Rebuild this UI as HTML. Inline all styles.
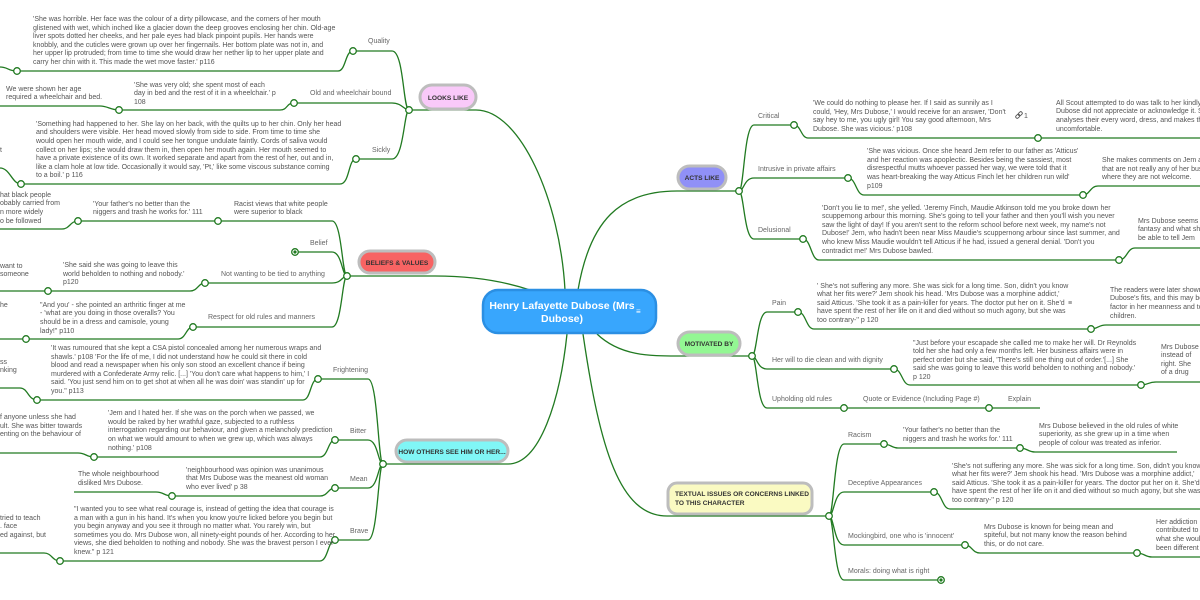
<!DOCTYPE html>
<html><head><meta charset="utf-8"><style>
html,body{margin:0;padding:0;background:#fff;width:1200px;height:600px;overflow:hidden}
svg{display:block}
text{font-family:"Liberation Sans",sans-serif;font-size:7px;fill:#555}
.l{fill:#666}
.p{font-weight:bold;fill:#333;font-size:6.6px}
path{fill:none;stroke:#217a21;stroke-width:1.3}
.c{fill:#fff;stroke:#217a21;stroke-width:1.3}
.d{fill:#217a21}
</style></head><body>
<svg width="1200" height="600" viewBox="0 0 1200 600" xmlns="http://www.w3.org/2000/svg">
<!-- top-level connectors -->
<path d="M565 290 C560 200 520 110 476 110 L409 110"/>
<path d="M530 290 C500 280 470 276 435 276 L347 276"/>
<path d="M567 334 C560 400 540 464 508 464 L383 464"/>
<path d="M578 290 C590 220 620 191 677 191 L739 191"/>
<path d="M597 334 C620 356 650 356 677 356 L752 356"/>
<path d="M583 334 C600 450 620 516 667 516 L829 516"/>

<!-- LOOKS LIKE -->
<path d="M409 110 C403 110 404 51 392 51 L353 51 M353 51 C345 51 346 71 338 71 L17 71 M17 71 C8 71 8 67 0 67"/>
<path d="M409 110 C404 110 402 103 392 103 L294 103 M294 103 C286 103 288 110 280 110 L119 110 M119 110 C110 110 108 106 100 106 L0 106"/>
<path d="M409 110 C404 110 404 159 392 159 L356 159 M356 159 C348 159 350 184 340 184 L21 184 M21 184 C12 184 10 168 0 168"/>
<circle class="c" cx="353" cy="51" r="3.3"/><circle class="c" cx="17" cy="71" r="3.3"/>
<circle class="c" cx="294" cy="103" r="3.3"/><circle class="c" cx="119" cy="110" r="3.3"/>
<circle class="c" cx="356" cy="159" r="3.3"/><circle class="c" cx="21" cy="184" r="3.3"/>
<circle class="c" cx="409" cy="110" r="3.3"/>
<text class="l" x="368" y="43">Quality</text>
<text x="33" y="21">'She was horrible. Her face was the colour of a dirty pillowcase, and the corners of her mouth</text>
<text x="33" y="30">glistened with wet, which inched like a glacier down the deep grooves enclosing her chin. Old-age</text>
<text x="33" y="38">liver spots dotted her cheeks, and her pale eyes had black pinpoint pupils. Her hands were</text>
<text x="33" y="47">knobbly, and the cuticles were grown up over her fingernails. Her bottom plate was not in, and</text>
<text x="33" y="55">her upper lip protruded; from time to time she would draw her nether lip to her upper plate and</text>
<text x="33" y="64">carry her chin with it. This made the wet move faster.' p116</text>
<text class="l" x="310" y="95">Old and wheelchair bound</text>
<text x="134" y="87">'She was very old; she spent most of each</text>
<text x="134" y="95">day in bed and the rest of it in a wheelchair.' p</text>
<text x="134" y="104">108</text>
<text x="6" y="91">We were shown her age</text>
<text x="6" y="99">required a wheelchair and bed.</text>
<text class="l" x="372" y="152">Sickly</text>
<text x="36" y="126">'Something had happened to her. She lay on her back, with the quilts up to her chin. Only her head</text>
<text x="36" y="134">and shoulders were visible. Her head moved slowly from side to side. From time to time she</text>
<text x="36" y="143">would open her mouth wide, and I could see her tongue undulate faintly. Cords of saliva would</text>
<text x="36" y="152">collect on her lips; she would draw them in, then open her mouth again. Her mouth seemed to</text>
<text x="36" y="160">have a private existence of its own. It worked separate and apart from the rest of her, out and in,</text>
<text x="36" y="169">like a clam hole at low tide. Occasionally it would say, 'Pt,' like some viscous substance coming</text>
<text x="36" y="177">to a boil.' p 116</text>
<text x="0" y="152">t</text>
<text x="0" y="197">hat black people</text>
<text x="0" y="205">obably carried from</text>
<text x="0" y="214">n more widely</text>
<text x="0" y="223">o be followed</text>

<!-- BELIEFS -->
<path d="M347 276 C342 276 342 221 332 221 L218 221 L78 221 M78 221 C70 221 70 229 62 229 L0 229"/>
<path d="M347 276 C342 276 342 252 332 252 L295 252"/>
<path d="M347 276 C342 276 342 283 332 283 L205 283 M205 283 C198 283 198 291 190 291 L0 291"/>
<path d="M347 276 C342 276 342 327 332 327 L193 327 M193 327 C186 327 186 339 178 339 L0 339"/>
<circle class="c" cx="218" cy="221" r="3.3"/><circle class="c" cx="78" cy="221" r="3.3"/>
<circle class="c" cx="295" cy="252" r="3.3"/><circle class="d" cx="295" cy="252" r="1.6"/>
<circle class="c" cx="205" cy="283" r="3.3"/><circle class="c" cx="48" cy="291" r="3.3"/>
<circle class="c" cx="193" cy="327" r="3.3"/><circle class="c" cx="26" cy="339" r="3.3"/>
<circle class="c" cx="347" cy="276" r="3.3"/>
<text x="93" y="206">'Your father's no better than the</text>
<text x="93" y="214">niggers and trash he works for.' 111</text>
<text x="234" y="206">Racist views that white people</text>
<text x="234" y="214">were superior to black</text>
<text class="l" x="310" y="245">Belief</text>
<text class="l" x="221" y="276">Not wanting to be tied to anything</text>
<text x="63" y="267">'She said she was going to leave this</text>
<text x="63" y="276">world beholden to nothing and nobody.'</text>
<text x="63" y="284">p120</text>
<text x="0" y="268">want to</text>
<text x="0" y="276">someone</text>
<text class="l" x="208" y="319">Respect for old rules and manners</text>
<text x="40" y="307">"And you' - she pointed an arthritic finger at me</text>
<text x="40" y="315">- 'what are you doing in those overalls? You</text>
<text x="40" y="324">should be in a dress and camisole, young</text>
<text x="40" y="333">lady!" p110</text>
<text x="0" y="307">he</text>

<!-- HOW OTHERS -->
<path d="M383 464 C378 464 378 379 368 379 L318 379 M318 379 C310 379 311 400 303 400 L37 400 M37 400 C28 400 28 388 20 388 L0 388"/>
<path d="M383 464 C378 464 378 440 368 440 L335 440 M335 440 C328 440 328 457 320 457 L94 457 M94 457 C86 457 86 453 78 453 L0 453"/>
<path d="M383 464 C378 464 378 488 368 488 L335 488 M335 488 C328 488 328 496 320 496 L172 496 M172 496 C164 496 164 492 156 492 L74 492"/>
<path d="M383 464 C378 464 378 540 368 540 L335 540 M335 540 C328 540 328 561 320 561 L60 561 M60 561 C52 561 52 553 44 553 L0 553"/>
<circle class="c" cx="318" cy="379" r="3.3"/><circle class="c" cx="37" cy="400" r="3.3"/>
<circle class="c" cx="335" cy="440" r="3.3"/><circle class="c" cx="94" cy="457" r="3.3"/>
<circle class="c" cx="335" cy="488" r="3.3"/><circle class="c" cx="172" cy="496" r="3.3"/>
<circle class="c" cx="335" cy="540" r="3.3"/><circle class="c" cx="60" cy="561" r="3.3"/>
<circle class="c" cx="383" cy="464" r="3.3"/>
<text class="l" x="333" y="372">Frightening</text>
<text x="51" y="350">'It was rumoured that she kept a CSA pistol concealed among her numerous wraps and</text>
<text x="51" y="359">shawls.' p108 'For the life of me, I did not understand how he could sit there in cold</text>
<text x="51" y="367">blood and read a newspaper when his only son stood an excellent chance if being</text>
<text x="51" y="376">murdered with a Confederate Army relic. [...] 'You don't care what happens to him,' I</text>
<text x="51" y="384">said. 'You just send him on to get shot at when all he was doin' was standin' up for</text>
<text x="51" y="393">you." p113</text>
<text x="0" y="364">ss</text>
<text x="0" y="372">nking</text>
<text class="l" x="350" y="433">Bitter</text>
<text x="108" y="415">'Jem and I hated her. If she was on the porch when we passed, we</text>
<text x="108" y="424">would be raked by her wrathful gaze, subjected to a ruthless</text>
<text x="108" y="432">interrogation regarding our behaviour, and given a melancholy prediction</text>
<text x="108" y="441">on what we would amount to when we grew up, which was always</text>
<text x="108" y="450">nothing.' p108</text>
<text x="0" y="419">f anyone unless she had</text>
<text x="0" y="428">ult. She was bitter towards</text>
<text x="0" y="436">enting on the behaviour of</text>
<text class="l" x="350" y="481">Mean</text>
<text x="186" y="472">'neighbourhood was opinion was unanimous</text>
<text x="186" y="480">that Mrs Dubose was the meanest old woman</text>
<text x="186" y="489">who ever lived' p 38</text>
<text x="78" y="476">The whole neighbourhood</text>
<text x="78" y="485">disliked Mrs Dubose.</text>
<text class="l" x="350" y="533">Brave</text>
<text x="74" y="511">"I wanted you to see what real courage is, instead of getting the idea that courage is</text>
<text x="74" y="520">a man with a gun in his hand. It's when you know you're licked before you begin but</text>
<text x="74" y="528">you begin anyway and you see it through no matter what. You rarely win, but</text>
<text x="74" y="537">sometimes you do. Mrs Dubose won, all ninety-eight pounds of her. According to her</text>
<text x="74" y="545">views, she died beholden to nothing and nobody. She was the bravest person I ever</text>
<text x="74" y="554">knew." p 121</text>
<text x="0" y="520">tried to teach</text>
<text x="0" y="528">. face</text>
<text x="0" y="537">ed against, but</text>

<!-- ACTS LIKE -->
<path d="M739 191 C744 191 744 125 754 125 L794 125 M794 125 C801 125 801 138 808 138 L1200 138"/>
<path d="M739 191 C744 191 744 178 754 178 L848 178 M848 178 C856 178 856 195 864 195 L1083 195 M1083 195 C1090 195 1090 186 1098 186 L1200 186"/>
<path d="M739 191 C744 191 744 239 754 239 L803 239 M803 239 C811 239 811 260 819 260 L1119 260 M1119 260 C1127 260 1127 248 1135 248 L1200 248"/>
<circle class="c" cx="794" cy="125" r="3.3"/><circle class="c" cx="1038" cy="138" r="3.3"/>
<circle class="c" cx="848" cy="178" r="3.3"/><circle class="c" cx="1083" cy="195" r="3.3"/>
<circle class="c" cx="803" cy="239" r="3.3"/><circle class="c" cx="1119" cy="260" r="3.3"/>
<circle class="c" cx="739" cy="191" r="3.3"/>
<text class="l" x="758" y="118">Critical</text>
<text x="813" y="105">'We could do nothing to please her. If I said as sunnily as I</text>
<text x="813" y="114">could, 'Hey, Mrs Dubose,' I would receive for an answer, 'Don't</text>
<text x="813" y="122">say hey to me, you ugly girl! You say good afternoon, Mrs</text>
<text x="813" y="131">Dubose. She was vicious.' p108</text>
<g transform="translate(1019,115) rotate(-45)"><rect x="-4" y="-1.5" width="4.5" height="3" rx="1.5" fill="none" stroke="#555" stroke-width="0.9"/><rect x="-0.5" y="-1.5" width="4.5" height="3" rx="1.5" fill="none" stroke="#555" stroke-width="0.9"/></g>
<text x="1024" y="118">1</text>
<text x="1056" y="105">All Scout attempted to do was talk to her kindly, but Mrs</text>
<text x="1056" y="113">Dubose did not appreciate or acknowledge it. She</text>
<text x="1056" y="122">analyses their every word, dress, and makes them</text>
<text x="1056" y="131">uncomfortable.</text>
<text class="l" x="758" y="171">Intrusive in private affairs</text>
<text x="867" y="153">'She was vicious. Once she heard Jem refer to our father as 'Atticus'</text>
<text x="867" y="162">and her reaction was apoplectic. Besides being the sassiest, most</text>
<text x="867" y="170">disrespectful mutts whoever passed her way, we were told that it</text>
<text x="867" y="179">was heart-breaking the way Atticus Finch let her children run wild'</text>
<text x="867" y="188">p109</text>
<text x="1102" y="162">She makes comments on Jem and Scout</text>
<text x="1102" y="171">that are not really any of her business,</text>
<text x="1102" y="179">where they are not welcome.</text>
<text class="l" x="758" y="232">Delusional</text>
<text x="822" y="210">'Don't you lie to me!', she yelled. 'Jeremy Finch, Maudie Atkinson told me you broke down her</text>
<text x="822" y="218">scuppernong arbour this morning. She's going to tell your father and then you'll wish you never</text>
<text x="822" y="227">saw the light of day! If you aren't sent to the reform school before next week, my name's not</text>
<text x="822" y="235">Dubose!' Jem, who hadn't been near Miss Maudie's scuppernong arbour since last summer, and</text>
<text x="822" y="244">who knew Miss Maudie wouldn't tell Atticus if he had, issued a general denial. 'Don't you</text>
<text x="822" y="253">contradict me!' Mrs Dubose bawled.</text>
<text x="1138" y="223">Mrs Dubose seems to live in a</text>
<text x="1138" y="231">fantasy and what she</text>
<text x="1138" y="240">be able to tell Jem</text>

<!-- MOTIVATED BY -->
<path d="M752 356 C757 356 757 312 767 312 L798 312 M798 312 C806 312 806 329 814 329 L1091 329 M1091 329 C1098 329 1098 325 1106 325 L1200 325"/>
<path d="M752 356 C757 356 757 369 767 369 L894 369 M894 369 C902 369 902 385 910 385 L1141 385 M1141 385 C1148 385 1148 382 1156 382 L1200 382"/>
<path d="M752 356 C757 356 757 408 767 408 L1040 408"/>
<circle class="c" cx="798" cy="312" r="3.3"/><circle class="c" cx="1091" cy="329" r="3.3"/>
<circle class="c" cx="894" cy="369" r="3.3"/><circle class="c" cx="1141" cy="385" r="3.3"/>
<circle class="c" cx="844" cy="408" r="3.3"/><circle class="c" cx="989" cy="408" r="3.3"/>
<circle class="c" cx="752" cy="356" r="3.3"/>
<text class="l" x="772" y="305">Pain</text>
<text x="817" y="288">' She's not suffering any more. She was sick for a long time. Son, didn't you know</text>
<text x="817" y="296">what her fits were?' Jem shook his head. 'Mrs Dubose was a morphine addict,'</text>
<text x="817" y="305">said Atticus. 'She took it as a pain-killer for years. The doctor put her on it. She'd</text>
<text x="817" y="313">have spent the rest of her life on it and died without so much agony, but she was</text>
<text x="817" y="322">too contrary-'' p 120</text>
<text x="1068" y="305" style="font-size:7px">≡</text>
<text x="1110" y="292">The readers were later shown Mrs</text>
<text x="1110" y="300">Dubose's fits, and this may be a</text>
<text x="1110" y="309">factor in her meanness and to the</text>
<text x="1110" y="318">children.</text>
<text class="l" x="772" y="362">Her will to die clean and with dignity</text>
<text x="913" y="345">"Just before your escapade she called me to make her will. Dr Reynolds</text>
<text x="913" y="353">told her she had only a few months left. Her business affairs were in</text>
<text x="913" y="362">perfect order but she said, 'There's still one thing out of order.'[...] She</text>
<text x="913" y="370">said she was going to leave this world beholden to nothing and nobody.'</text>
<text x="913" y="379">p 120</text>
<text x="1161" y="349">Mrs Dubose</text>
<text x="1161" y="357">instead of</text>
<text x="1161" y="366">right. She</text>
<text x="1161" y="374">of a drug</text>
<text class="l" x="772" y="401">Upholding old rules</text>
<text class="l" x="863" y="401">Quote or Evidence (Including Page #)</text>
<text class="l" x="1008" y="401">Explain</text>

<!-- TEXTUAL -->
<path d="M829 516 C834 516 834 444 844 444 L884 444 M884 444 C890 444 892 448 898 448 L1020 448 M1020 448 C1027 448 1028 452 1035 452 L1177 452"/>
<path d="M829 516 C834 516 834 492 844 492 L934 492 M934 492 C942 492 942 509 950 509 L1200 509"/>
<path d="M829 516 C834 516 834 545 844 545 L965 545 M965 545 C972 545 972 553 980 553 L1137 553 M1137 553 C1144 553 1145 557 1152 557 L1200 557"/>
<path d="M829 516 C834 516 834 580 844 580 L941 580"/>
<circle class="c" cx="884" cy="444" r="3.3"/><circle class="c" cx="1020" cy="448" r="3.3"/>
<circle class="c" cx="934" cy="492" r="3.3"/>
<circle class="c" cx="965" cy="545" r="3.3"/><circle class="c" cx="1137" cy="553" r="3.3"/>
<circle class="c" cx="941" cy="580" r="3.3"/><circle class="d" cx="941" cy="580" r="1.6"/>
<circle class="c" cx="829" cy="516" r="3.3"/>
<text class="l" x="848" y="437">Racism</text>
<text x="903" y="432">'Your father's no better than the</text>
<text x="903" y="441">niggers and trash he works for.' 111</text>
<text x="1039" y="428">Mrs Dubose believed in the old rules of white</text>
<text x="1039" y="436">superiority, as she grew up in a time when</text>
<text x="1039" y="445">people of colour was treated as inferior.</text>
<text class="l" x="848" y="485">Deceptive Appearances</text>
<text x="952" y="468">'She's not suffering any more. She was sick for a long time. Son, didn't you know</text>
<text x="952" y="476">what her fits were?' Jem shook his head. 'Mrs Dubose was a morphine addict,'</text>
<text x="952" y="485">said Atticus. 'She took it as a pain-killer for years. The doctor put her on it. She'd</text>
<text x="952" y="493">have spent the rest of her life on it and died without so much agony, but she was</text>
<text x="952" y="502">too contrary-'' p 120</text>
<text class="l" x="848" y="538">Mockingbird, one who is 'innocent'</text>
<text x="984" y="529">Mrs Dubose is known for being mean and</text>
<text x="984" y="537">spiteful, but not many know the reason behind</text>
<text x="984" y="546">this, or do not care.</text>
<text x="1156" y="524">Her addiction</text>
<text x="1156" y="532">contributed to</text>
<text x="1156" y="541">what she would have</text>
<text x="1156" y="550">been different</text>
<text class="l" x="848" y="573">Morals: doing what is right</text>

<!-- Pills -->
<rect x="420" y="85" width="56" height="24" rx="12" fill="#f9c9f9" stroke="#bdbdbd" stroke-width="3"/>
<text class="p" x="448" y="100" text-anchor="middle">LOOKS LIKE</text>
<rect x="359" y="251" width="76" height="22" rx="11" fill="#f76363" stroke="#bdbdbd" stroke-width="3"/>
<text class="p" x="397" y="265" text-anchor="middle">BELIEFS &amp; VALUES</text>
<rect x="396" y="440" width="112" height="22" rx="11" fill="#80f6f6" stroke="#bdbdbd" stroke-width="3"/>
<text class="p" x="452" y="454" text-anchor="middle">HOW OTHERS SEE HIM OR HER...</text>
<rect x="678" y="166" width="48" height="23" rx="11.5" fill="#9090f7" stroke="#bdbdbd" stroke-width="3"/>
<text class="p" x="702" y="180" text-anchor="middle">ACTS LIKE</text>
<rect x="678" y="332" width="62" height="23" rx="11.5" fill="#93f793" stroke="#bdbdbd" stroke-width="3"/>
<text class="p" x="709" y="346" text-anchor="middle">MOTIVATED BY</text>
<rect x="668" y="483" width="144" height="31" rx="9" fill="#fafac2" stroke="#bdbdbd" stroke-width="3"/>
<text class="p" x="675" y="496">TEXTUAL ISSUES OR CONCERNS LINKED</text>
<text class="p" x="675" y="505">TO THIS CHARACTER</text>

<!-- Center -->
<rect x="483" y="290" width="173" height="43" rx="15" fill="#38a6fd" stroke="#2b8fe3" stroke-width="2.5"/>
<text x="562" y="309" text-anchor="middle" style="font-size:10.5px;font-weight:bold;fill:#fff">Henry Lafayette Dubose (Mrs</text>
<text x="562" y="322" text-anchor="middle" style="font-size:10.5px;font-weight:bold;fill:#fff">Dubose)</text>
<text x="636" y="314" style="font-size:8px;fill:#fff">≡</text>
</svg>
</body></html>
